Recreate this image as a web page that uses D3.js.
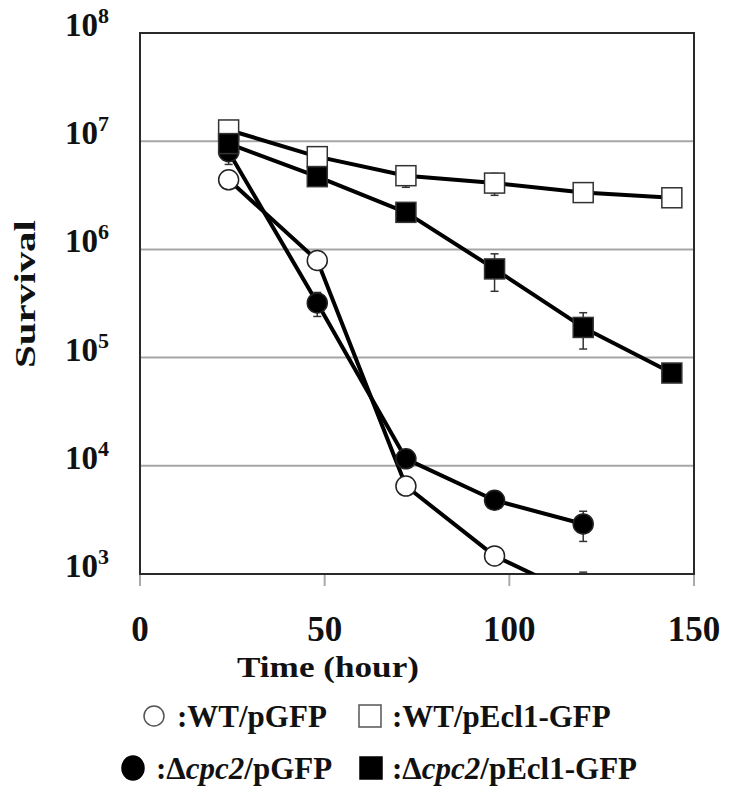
<!DOCTYPE html>
<html><head><meta charset="utf-8">
<script src="https://cdn.jsdelivr.net/npm/d3@7"></script>
<style>
body{margin:0;background:#fff;}
svg{display:block;}
text{font-family:"Liberation Serif","Times New Roman",serif;font-weight:bold;fill:#111;}
</style></head>
<body>
<svg id="chart" width="729" height="811"></svg>
<script>
// ---- data ----
const hours = [24, 48, 72, 96, 120, 144];
const wtGFP      = [4.4e6, 7.9e5, 6.5e3, 1.47e3, 6.0e2];
const wtGFPErr   = [0, 0, 0, 0, 4.4e2];
const cpc2GFP    = [8.0e6, 3.2e5, 1.16e4, 4.8e3, 2.9e3];
const cpc2GFPErr = [1.9e6, 0.8e5, 0, 0, 0.9e3];
const wtEcl1     = [1.27e7, 7.2e6, 4.8e6, 4.1e6, 3.35e6, 3.0e6];
const wtEcl1Err  = [0, 0, 1.05e6, 0.94e6, 0, 0];
const cpc2Ecl1   = [9.5e6, 4.7e6, 2.2e6, 6.6e5, 1.9e5, 7.2e4];
const cpc2Ecl1Err= [0, 0, 0, 2.5e5, 0.7e5, 0];
const xTicks = [0, 50, 100, 150];
const yTickExps = [3, 4, 5, 6, 7, 8];
const seriesNames = ["WT/pGFP", "\u0394cpc2/pGFP", "WT/pEcl1-GFP", "\u0394cpc2/pEcl1-GFP"];

const series = [
  {name: seriesNames[0], vals: wtGFP, err: wtGFPErr, shape: "circle", fill: "#fff"},
  {name: seriesNames[1], vals: cpc2GFP, err: cpc2GFPErr, shape: "circle", fill: "#000"},
  {name: seriesNames[2], vals: wtEcl1, err: wtEcl1Err, shape: "square", fill: "#fff"},
  {name: seriesNames[3], vals: cpc2Ecl1, err: cpc2Ecl1Err, shape: "square", fill: "#000"}
];

const svg = d3.select("#chart");
const L = 140, T = 33, R = 694, B = 574;
const x = d3.scaleLinear().domain([0, 150]).range([L, R]);
const y = d3.scaleLog().domain([1e3, 1e8]).range([B, T]);

svg.append("defs").append("clipPath").attr("id", "clip")
  .append("rect").attr("x", L).attr("y", T).attr("width", R - L).attr("height", B - T);

// gridlines
svg.append("g").selectAll("line").data(yTickExps.filter(e => e > 3 && e < 8)).join("line")
  .attr("x1", L).attr("x2", R)
  .attr("y1", e => y(Math.pow(10, e))).attr("y2", e => y(Math.pow(10, e)))
  .attr("stroke", "#a6a6a6").attr("stroke-width", 2);

// x tick marks
svg.append("g").selectAll("line").data(xTicks).join("line")
  .attr("x1", d => x(d)).attr("x2", d => x(d))
  .attr("y1", B + 1).attr("y2", B + 12)
  .attr("stroke", "#aaa").attr("stroke-width", 2);

// x tick labels
svg.append("g").selectAll("text").data(xTicks).join("text")
  .attr("x", d => x(d)).attr("y", 641)
  .attr("text-anchor", "middle")
  .style("font-size", "35px")
  .text(d => d);

// y tick labels
const yl = svg.append("g").selectAll("text").data(yTickExps).join("text")
  .attr("x", 65).attr("y", e => y(Math.pow(10, e)) + 3)
  .style("font-size", "33px");
yl.append("tspan").text("10");
yl.append("tspan").attr("dy", -13).style("font-size", "22px").text(e => e);

// plot frame
svg.append("rect").attr("x", L).attr("y", T).attr("width", R - L).attr("height", B - T)
  .attr("fill", "none").attr("stroke", "#2a2a2a").attr("stroke-width", 2);

// axis titles
svg.append("text").attr("x", 237).attr("y", 677)
  .attr("textLength", 182).attr("lengthAdjust", "spacingAndGlyphs")
  .style("font-size", "30px").text("Time (hour)");
svg.append("text").attr("transform", "translate(35,368) rotate(-90)")
  .attr("textLength", 148).attr("lengthAdjust", "spacingAndGlyphs")
  .style("font-size", "30px").text("Survival");

// series
const plot = svg.append("g").attr("clip-path", "url(#clip)");
const line = d3.line().x(d => x(d[0])).y(d => y(d[1]));
series.forEach(s => {
  const pts = s.vals.map((v, i) => [hours[i], v, s.err[i]]);
  const g = plot.append("g");
  g.append("path").datum(pts).attr("d", line)
    .attr("fill", "none").attr("stroke", "#000").attr("stroke-width", 4).attr("stroke-linejoin", "round");
  // error bars
  const eb = g.selectAll("g.eb").data(pts.filter(p => p[2] > 0)).join("g");
  eb.append("line")
    .attr("x1", p => x(p[0])).attr("x2", p => x(p[0]))
    .attr("y1", p => y(p[1] + p[2])).attr("y2", p => y(Math.max(p[1] - p[2], 1)))
    .attr("stroke", "#333").attr("stroke-width", 1.5);
  [1, -1].forEach(sg => {
    eb.append("line")
      .attr("x1", p => x(p[0]) - 4).attr("x2", p => x(p[0]) + 4)
      .attr("y1", p => y(Math.max(p[1] + sg * p[2], 1))).attr("y2", p => y(Math.max(p[1] + sg * p[2], 1)))
      .attr("stroke", "#333").attr("stroke-width", 1.5);
  });
  if (s.shape === "circle") {
    g.selectAll("circle").data(pts).join("circle")
      .attr("cx", p => x(p[0])).attr("cy", p => y(p[1])).attr("r", 10)
      .attr("fill", s.fill).attr("stroke", "#222").attr("stroke-width", 1.5);
  } else {
    g.selectAll("rect").data(pts).join("rect")
      .attr("x", p => x(p[0]) - 10).attr("y", p => y(p[1]) - 10)
      .attr("width", 20).attr("height", 20)
      .attr("fill", s.fill).attr("stroke", "#333").attr("stroke-width", 1.5);
  }
});

// legend
const legendPos = [
  {mx: 154, my: 716, tx: 177},
  {mx: 133, my: 768, tx: 156},
  {mx: 370, my: 716, tx: 392},
  {mx: 371, my: 768, tx: 392}
];
const lg = svg.append("g");
series.forEach((s, i) => {
  const p = legendPos[i];
  if (s.shape === "circle") {
    lg.append("ellipse").attr("cx", p.mx).attr("cy", p.my)
      .attr("rx", s.fill === "#000" ? 11 : 10).attr("ry", s.fill === "#000" ? 12 : 10)
      .attr("fill", s.fill).attr("stroke", s.fill === "#000" ? "#000" : "#555").attr("stroke-width", 1.5);
  } else {
    lg.append("rect").attr("x", p.mx - 11).attr("y", p.my - 11).attr("width", 22).attr("height", 22)
      .attr("fill", s.fill).attr("stroke", s.fill === "#000" ? "#000" : "#555").attr("stroke-width", 1.5);
  }
  const t = lg.append("text").attr("x", p.tx).attr("y", p.my + 11).style("font-size", "31px");
  t.append("tspan").text(":");
  if (s.name.startsWith("\u0394cpc2")) {
    t.append("tspan").text("\u0394");
    t.append("tspan").style("font-style", "italic").text("cpc2");
    t.append("tspan").text(s.name.slice(5));
  } else {
    t.append("tspan").text(s.name);
  }
});
</script>
</body></html>
